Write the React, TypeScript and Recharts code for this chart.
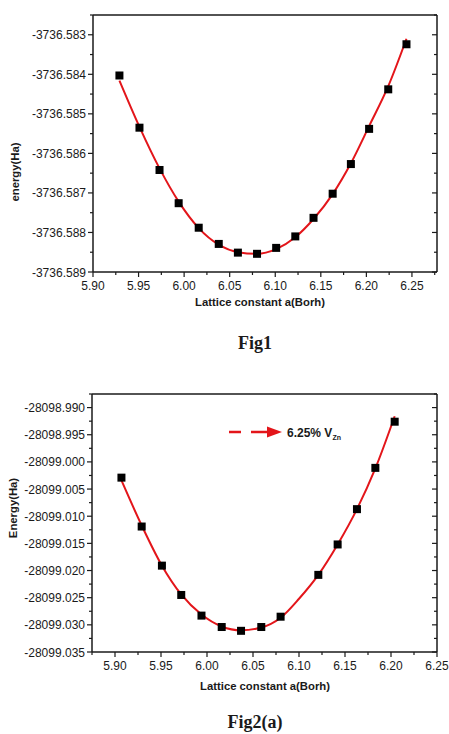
import React from "react";
import { ComposedChart, Line, Scatter, XAxis, YAxis } from "recharts";

// Fig1 — pristine cell
const fig1A = [5.929, 5.951, 5.973, 5.994, 6.016, 6.038, 6.059, 6.08, 6.101, 6.122, 6.142, 6.163, 6.183, 6.203, 6.224, 6.244];
const fig1E = [
  -3736.58403, -3736.58535, -3736.58642, -3736.58726, -3736.58788, -3736.58829, -3736.58851, -3736.58854,
  -3736.58839, -3736.5881, -3736.58763, -3736.58702, -3736.58627, -3736.58538, -3736.58438, -3736.58324,
];
const fig1Fit = [
  -3736.58416, -3736.58533, -3736.58638, -3736.58722, -3736.58789, -3736.58831, -3736.5885, -3736.58854,
  -3736.58842, -3736.58812, -3736.58766, -3736.58703, -3736.58625, -3736.58531, -3736.5843, -3736.5831,
];
const fig1XMajor = [5.9, 5.95, 6.0, 6.05, 6.1, 6.15, 6.2, 6.25];
const fig1XMinor = [5.925, 5.975, 6.025, 6.075, 6.125, 6.175, 6.225, 6.275];
const fig1YMajor = [-3736.589, -3736.588, -3736.587, -3736.586, -3736.585, -3736.584, -3736.583];
const fig1YMinor = [-3736.5885, -3736.5875, -3736.5865, -3736.5855, -3736.5845, -3736.5835, -3736.5825];

// Fig2(a) — 6.25% V_Zn
const fig2A = [5.907, 5.929, 5.951, 5.972, 5.994, 6.016, 6.037, 6.059, 6.08, 6.121, 6.142, 6.163, 6.183, 6.204];
const fig2E = [
  -28099.0029, -28099.0119, -28099.0191, -28099.0245, -28099.0283, -28099.0304, -28099.0311,
  -28099.0304, -28099.0285, -28099.0208, -28099.0152, -28099.0087, -28099.0011, -28098.9926,
];
const fig2FitA = [5.907, 5.929, 5.951, 5.972, 5.994, 6.016, 6.037, 6.059, 6.08, 6.1, 6.121, 6.142, 6.163, 6.183, 6.204];
const fig2Fit = [
  -28099.0034, -28099.0117, -28099.0191, -28099.0244, -28099.0281, -28099.0303, -28099.031, -28099.0305,
  -28099.0287, -28099.0252, -28099.0208, -28099.0152, -28099.0087, -28099.0012, -28098.9916,
];
const fig2XMajor = [5.9, 5.95, 6.0, 6.05, 6.1, 6.15, 6.2, 6.25];
const fig2XMinor = [5.875, 5.925, 5.975, 6.025, 6.075, 6.125, 6.175, 6.225];
const fig2YMajor = [
  -28099.035, -28099.03, -28099.025, -28099.02, -28099.015, -28099.01, -28099.005, -28099.0, -28098.995, -28098.99,
];
const fig2YMinor = [
  -28099.0325, -28099.0275, -28099.0225, -28099.0175, -28099.0125, -28099.0075, -28099.0025, -28098.9975,
  -28098.9925, -28098.9875,
];

const SANS = "'Liberation Sans', Arial, sans-serif";
const SERIF = "'Liberation Serif', 'Times New Roman', serif";
const INK = "#1a1a1a";
const RED = "#e3151a";

const isMajor = (v: number, majors: number[]) => majors.some((m) => Math.abs(m - v) < 1e-7);

const AxisTick = (props: any) => {
  const { x, y, payload, side, majors, digits } = props;
  const v = payload.value as number;
  const major = isMajor(v, majors);
  const len = major ? 5 : 3;
  const txt = { fontFamily: SANS, fontSize: 12, fill: INK } as const;
  if (side === "bottom")
    return (
      <g>
        <line x1={x} x2={x} y1={y} y2={y + len} stroke={INK} strokeWidth={1.2} />
        {major && (
          <text x={x} y={y + 18} textAnchor="middle" {...txt}>
            {v.toFixed(digits)}
          </text>
        )}
      </g>
    );
  if (side === "left")
    return (
      <g>
        <line x1={x} x2={x - len} y1={y} y2={y} stroke={INK} strokeWidth={1.2} />
        {major && (
          <text x={x - 7} y={y + 4.5} textAnchor="end" {...txt}>
            {v.toFixed(digits)}
          </text>
        )}
      </g>
    );
  if (side === "top") return <line x1={x} x2={x} y1={y} y2={y + len} stroke={INK} strokeWidth={1.2} />;
  return <line x1={x} x2={x - len} y1={y} y2={y} stroke={INK} strokeWidth={1.2} />;
};

const Square = (p: any) => <rect x={p.cx - 4} y={p.cy - 4} width={8} height={8} fill="#000" />;

interface PanelProps {
  pts: { x: number; y: number }[];
  fit: { x: number; y: number }[];
  xDomain: [number, number];
  yDomain: [number, number];
  xTicks: number[];
  xMajor: number[];
  yTicks: number[];
  yMajor: number[];
  yDigits: number;
  margin: { top: number; right: number; bottom: number; left: number };
  height: number;
}

// axes are 1px thick so they still render; margins below are reduced by 1 on every side
function Panel({ pts, fit, xDomain, yDomain, xTicks, xMajor, yTicks, yMajor, yDigits, margin, height }: PanelProps) {
  const axisLine = { stroke: INK, strokeWidth: 1.5 };
  const common = { tickSize: 0, tickMargin: 0, tickLine: false, interval: 0 as const, allowDataOverflow: true };
  const m = { top: margin.top - 1, right: margin.right - 1, bottom: margin.bottom - 1, left: margin.left - 1 };
  return (
    <ComposedChart width={449} height={height} margin={m}>
      <XAxis
        dataKey="x"
        type="number"
        domain={xDomain}
        ticks={xTicks}
        height={1}
        axisLine={axisLine}
        tick={(p: any) => <AxisTick {...p} side="bottom" majors={xMajor} digits={2} />}
        {...common}
      />
      <XAxis
        xAxisId="top"
        orientation="top"
        type="number"
        domain={xDomain}
        ticks={xTicks}
        height={1}
        axisLine={axisLine}
        tick={(p: any) => <AxisTick {...p} side="top" majors={xMajor} digits={2} />}
        {...common}
      />
      <YAxis
        dataKey="y"
        type="number"
        domain={yDomain}
        ticks={yTicks}
        width={1}
        axisLine={axisLine}
        tick={(p: any) => <AxisTick {...p} side="left" majors={yMajor} digits={yDigits} />}
        {...common}
      />
      <YAxis
        yAxisId="right"
        orientation="right"
        type="number"
        domain={yDomain}
        ticks={yTicks}
        width={1}
        axisLine={axisLine}
        tick={(p: any) => <AxisTick {...p} side="right" majors={yMajor} digits={yDigits} />}
        {...common}
      />
      <Line
        data={fit}
        dataKey="y"
        type="monotone"
        stroke={RED}
        strokeWidth={2}
        dot={false}
        activeDot={false}
        isAnimationActive={false}
      />
      <Scatter data={pts} dataKey="y" shape={Square} isAnimationActive={false} />
    </ComposedChart>
  );
}

const abs = (left: number, top: number): React.CSSProperties => ({ position: "absolute", left, top });

export default function App() {
  const pts1 = fig1A.map((x, i) => ({ x, y: fig1E[i] }));
  const fit1 = fig1A.map((x, i) => ({ x, y: fig1Fit[i] }));
  const pts2 = fig2A.map((x, i) => ({ x, y: fig2E[i] }));
  const fit2 = fig2FitA.map((x, i) => ({ x, y: fig2Fit[i] }));
  const axisTitle: React.CSSProperties = { fontFamily: SANS, fontSize: 11.3, fontWeight: "bold", color: INK, whiteSpace: "nowrap" };
  const caption: React.CSSProperties = { fontFamily: SERIF, fontSize: 18, fontWeight: "bold", color: INK, whiteSpace: "nowrap" };

  return (
    <div style={{ position: "relative", width: 449, height: 734, background: "#fff", overflow: "hidden" }}>
      <style>{"body{margin:0}"}</style>

      <div style={abs(0, 0)}>
        <Panel
          pts={pts1}
          fit={fit1}
          xDomain={[5.9, 6.2775]}
          yDomain={[-3736.589, -3736.5825]}
          xTicks={[...fig1XMajor, ...fig1XMinor]}
          xMajor={fig1XMajor}
          yTicks={[...fig1YMajor, ...fig1YMinor]}
          yMajor={fig1YMajor}
          yDigits={3}
          margin={{ top: 15, right: 12, bottom: 38, left: 93 }}
          height={310}
        />
      </div>
      <div style={{ ...abs(260, 302), ...axisTitle, transform: "translate(-50%,-50%)" }}>Lattice constant a(Borh)</div>
      <div style={{ ...abs(15, 172), ...axisTitle, transform: "translate(-50%,-50%) rotate(-90deg)" }}>energy(Ha)</div>
      <div style={{ ...abs(255, 343), ...caption, transform: "translate(-50%,-50%)" }}>Fig1</div>

      <div style={abs(0, 380)}>
        <Panel
          pts={pts2}
          fit={fit2}
          xDomain={[5.875, 6.25]}
          yDomain={[-28099.035, -28098.9875]}
          xTicks={[...fig2XMajor, ...fig2XMinor]}
          xMajor={fig2XMajor}
          yTicks={[...fig2YMajor, ...fig2YMinor]}
          yMajor={fig2YMajor}
          yDigits={3}
          margin={{ top: 14, right: 12, bottom: 28, left: 92 }}
          height={300}
        />
      </div>
      <svg style={abs(225, 422)} width={140} height={22}>
        <line x1={4} x2={42} y1={10} y2={10} stroke={RED} strokeWidth={2.5} strokeDasharray="12 10 16" />
        <polygon points="42,4.5 57,10 42,15.5" fill={RED} />
        <text x={62} y={14.5} fontFamily={SANS} fontSize={12} fontWeight="bold" fill={INK}>
          6.25% V
          <tspan fontSize={7} dy={3}>
            Zn
          </tspan>
        </text>
      </svg>
      <div style={{ ...abs(265, 686), ...axisTitle, transform: "translate(-50%,-50%)" }}>Lattice constant a(Borh)</div>
      <div style={{ ...abs(13, 508), ...axisTitle, transform: "translate(-50%,-50%) rotate(-90deg)" }}>Energy(Ha)</div>
      <div style={{ ...abs(255, 722), ...caption, transform: "translate(-50%,-50%)" }}>Fig2(a)</div>
    </div>
  );
}
